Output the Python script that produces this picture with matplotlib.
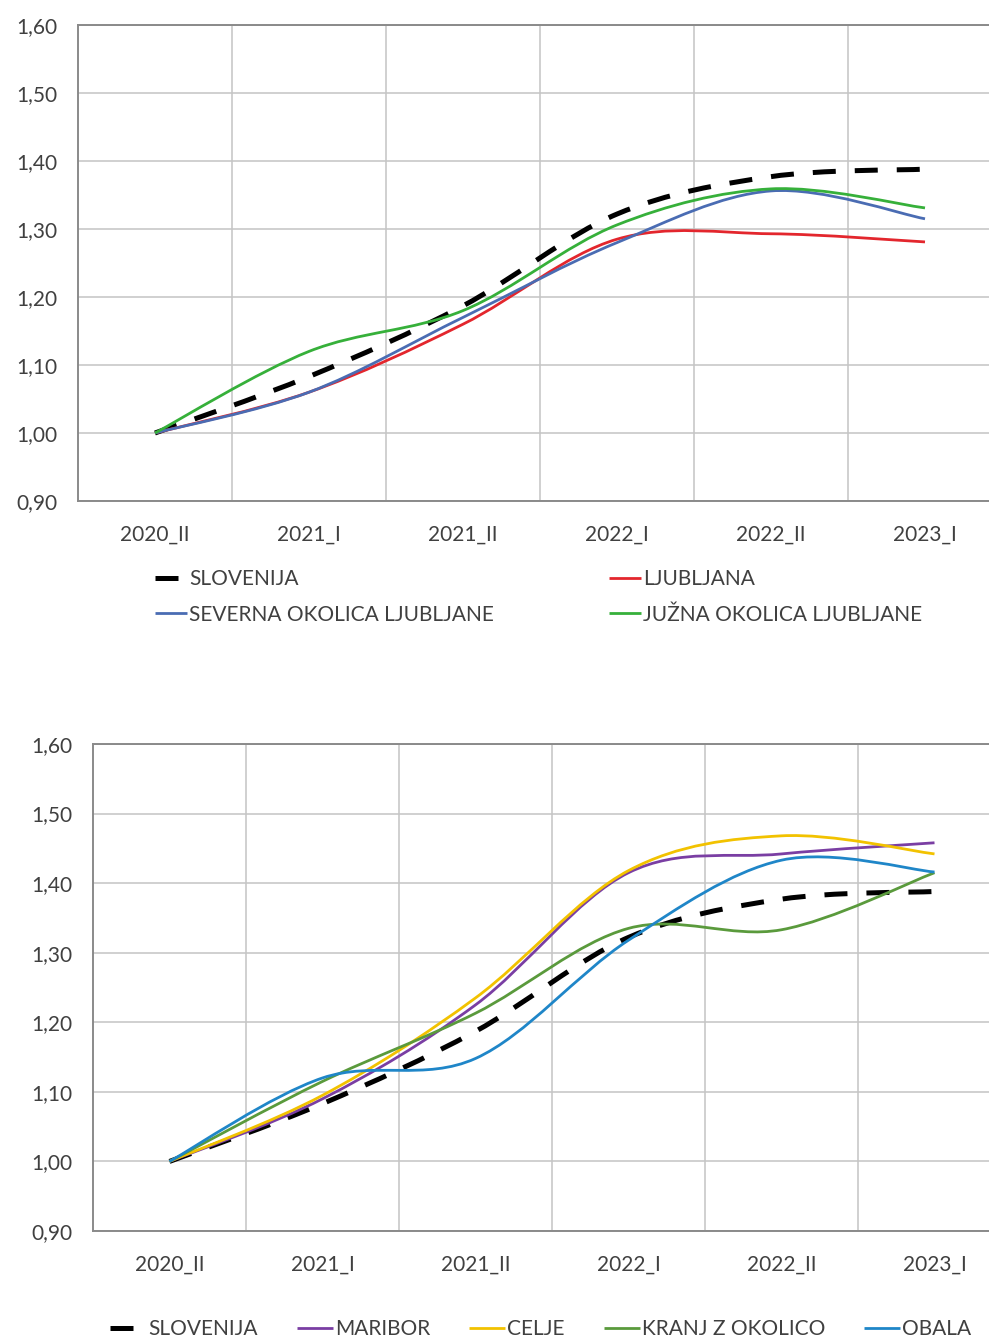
import numpy as np
import matplotlib.pyplot as plt
from matplotlib.path import Path
from matplotlib.patches import PathPatch
from matplotlib.lines import Line2D

plt.rcParams['font.family'] = ['Lato', 'DejaVu Sans']
plt.rcParams['font.size'] = 15

periods = ['2020_II', '2021_I', '2021_II', '2022_I', '2022_II', '2023_I']
y_ticks = [0.90, 1.00, 1.10, 1.20, 1.30, 1.40, 1.50, 1.60]

# index values, 2020_II = 1
slovenija = [1.00, 1.083, 1.187, 1.322, 1.377, 1.388]
ljubljana = [1.00, 1.060, 1.160, 1.285, 1.293, 1.281]
severna = [1.00, 1.060, 1.170, 1.280, 1.356, 1.315]
juzna = [1.00, 1.120, 1.180, 1.306, 1.359, 1.331]

maribor = [1.00, 1.090, 1.225, 1.415, 1.442, 1.458]
celje = [1.00, 1.095, 1.235, 1.418, 1.468, 1.442]
kranj = [1.00, 1.115, 1.213, 1.335, 1.333, 1.415]
obala = [1.00, 1.120, 1.148, 1.318, 1.433, 1.416]

TXT = '#404040'
DASH = (0, (4.6, 3.8))


def smooth_path(x, y):
    # bezier through the points, same idea as the smoothed lines in Excel
    pts = np.column_stack([x, y]).astype(float)
    n = len(pts)
    verts = [pts[0]]
    codes = [Path.MOVETO]
    for i in range(n - 1):
        p0 = pts[max(i - 1, 0)]
        p1 = pts[i]
        p2 = pts[i + 1]
        p3 = pts[min(i + 2, n - 1)]
        verts += [p1 + (p2 - p0) / 6, p2 - (p3 - p1) / 6, p2]
        codes += [Path.CURVE4] * 3
    return Path(verts, codes)


def draw_series(ax, y, color, lw=2.0, ls='-'):
    path = smooth_path(np.arange(len(y)), y)
    ax.add_patch(PathPatch(path, fill=False, edgecolor=color, lw=lw,
                           linestyle=ls, capstyle='butt', joinstyle='round'))
    return Line2D([], [], color=color, lw=lw, linestyle=ls,
                  solid_capstyle='butt', dash_capstyle='butt')


def setup(ax):
    ax.set_xlim(-0.5, 5.5)
    ax.set_ylim(0.9, 1.6)
    ax.set_xticks(range(len(periods)))
    ax.set_xticklabels(periods)
    ax.set_xticks(np.arange(0.5, 5.5, 1), minor=True)
    ax.set_yticks(y_ticks)
    ax.set_yticklabels([f'{v:.2f}'.replace('.', ',') for v in y_ticks])
    ax.grid(which='minor', axis='x', color='#c4c4c4', lw=1.1)
    ax.grid(which='major', axis='y', color='#c4c4c4', lw=1.1)
    ax.grid(which='major', axis='x', visible=False)
    ax.tick_params(which='both', length=0, colors=TXT)
    ax.tick_params(axis='x', pad=17)
    ax.tick_params(axis='y', pad=15)
    for s in ax.spines.values():
        s.set_color('#8a8a8a')
        s.set_linewidth(1.4)
    ax.set_axisbelow(True)


fig = plt.figure(figsize=(9.89, 13.4), dpi=100)
W, H = 989, 1340
leg_kw = dict(frameon=False, handletextpad=0.1,
              borderpad=0, borderaxespad=0, labelcolor=TXT)

# upper panel: Ljubljana and surroundings
ax1 = fig.add_axes([78 / W, 1 - 501 / H, 924 / W, 476 / H])
setup(ax1)
h_slo = draw_series(ax1, slovenija, 'black', lw=3.6, ls=DASH)
h_lju = draw_series(ax1, ljubljana, '#e3262d')
h_sev = draw_series(ax1, severna, '#4a6cb3')
h_juz = draw_series(ax1, juzna, '#36b03a')

fig.legend([h_slo, h_sev, h_lju, h_juz],
           ['SLOVENIJA', 'SEVERNA OKOLICA LJUBLJANE', 'LJUBLJANA', 'JUŽNA OKOLICA LJUBLJANE'],
           ncol=2, loc='upper left', bbox_to_anchor=(155 / W, 1 - 569 / H),
           handlelength=1.55, columnspacing=5.5, labelspacing=0.75, **leg_kw)

# lower panel: other regions
ax2 = fig.add_axes([93 / W, 1 - 1231 / H, 918 / W, 487 / H])
setup(ax2)
h_slo2 = draw_series(ax2, slovenija, 'black', lw=3.6, ls=DASH)
h_mb = draw_series(ax2, maribor, '#7a3ea3')
h_ce = draw_series(ax2, celje, '#f2c200')
h_kr = draw_series(ax2, kranj, '#5a9a3c')
h_ob = draw_series(ax2, obala, '#1f86c8')

fig.legend([h_slo2, h_mb, h_ce, h_kr, h_ob],
           ['SLOVENIJA', 'MARIBOR', 'CELJE', 'KRANJ Z OKOLICO', 'OBALA'],
           ncol=5, loc='upper left', bbox_to_anchor=(110 / W, 1 - 1319 / H),
           handlelength=1.75, columnspacing=1.85, **leg_kw)

fig.savefig('out.png', dpi=100)
